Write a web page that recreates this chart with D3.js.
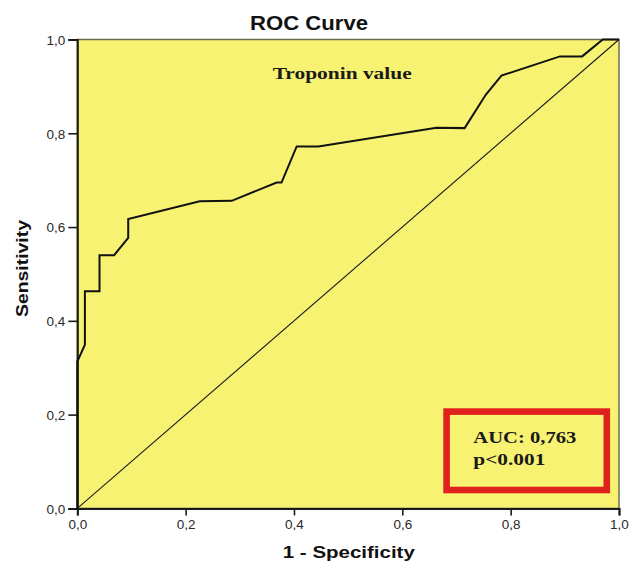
<!DOCTYPE html>
<html>
<head>
<meta charset="utf-8">
<script src="https://cdn.jsdelivr.net/npm/d3@7/dist/d3.min.js"></script>
<style>
  html, body { margin: 0; padding: 0; background: #ffffff; }
  svg { display: block; }
</style>
</head>
<body>
<svg id="chart" width="629" height="566"></svg>
<script>
// ---- data ----
const fpr = [0, 0, 0.014, 0.014, 0.041, 0.041, 0.068, 0.094, 0.094, 0.226, 0.285, 0.368, 0.377, 0.405, 0.445, 0.663, 0.715, 0.754, 0.783, 0.891, 0.932, 0.970, 1.0];
const tpr = [0, 0.313, 0.349, 0.463, 0.463, 0.540, 0.540, 0.577, 0.617, 0.655, 0.656, 0.695, 0.695, 0.772, 0.772, 0.812, 0.811, 0.882, 0.923, 0.964, 0.964, 1.0, 1.0];
const refX = [0, 1];
const refY = [0, 1];
const tickValues = [0, 0.2, 0.4, 0.6, 0.8, 1.0];
const tickLabels = ["0,0", "0,2", "0,4", "0,6", "0,8", "1,0"];
const titleText = "ROC Curve";
const seriesLabel = "Troponin value";
const xLabel = "1 - Specificity";
const yLabel = "Sensitivity";
const aucLines = ["AUC: 0,763", "p<0.001"];

// ---- layout ----
const svg = d3.select("#chart");
const pL = 77.3, pR = 619, pT = 39.5, pB = 508.4;
const x = d3.scaleLinear().domain([0, 1]).range([pL, pR]);
const y = d3.scaleLinear().domain([0, 1]).range([pB, pT]);

// plot background
svg.append("rect")
  .attr("x", pL).attr("y", pT)
  .attr("width", pR - pL).attr("height", pB - pT)
  .attr("fill", "#f8f272")
  .attr("stroke", "#6e6c50").attr("stroke-width", 1.5);

// axes
const xAxis = d3.axisBottom(x).tickValues(tickValues)
  .tickFormat((d, i) => tickLabels[i]).tickSize(7).tickPadding(4);
const yAxis = d3.axisLeft(y).tickValues(tickValues)
  .tickFormat((d, i) => tickLabels[i]).tickSize(9).tickPadding(3);

const gx = svg.append("g").attr("transform", `translate(0,${pB})`).call(xAxis);
const gy = svg.append("g").attr("transform", `translate(${pL},0)`).call(yAxis);
[gx, gy].forEach(g => {
  g.select(".domain").attr("stroke", "#1a1a1a").attr("stroke-width", 2);
  g.selectAll(".tick line").attr("stroke", "#1a1a1a").attr("stroke-width", 1.6);
  g.selectAll(".tick text")
    .attr("fill", "#2a2a2a")
    .style("font-family", "'Liberation Sans', Arial, sans-serif")
    .style("font-size", "13.5px");
});
gy.selectAll(".tick text").attr("dy", "0.36em");

// reference diagonal
svg.append("line")
  .attr("x1", x(refX[0])).attr("y1", y(refY[0]))
  .attr("x2", x(refX[1])).attr("y2", y(refY[1]))
  .attr("stroke", "#1a1a1a").attr("stroke-width", 1.1);

// ROC curve
const pts = fpr.map((v, i) => [v, tpr[i]]);
svg.append("path")
  .datum(pts)
  .attr("fill", "none")
  .attr("stroke", "#111111")
  .attr("stroke-width", 2)
  .attr("stroke-linejoin", "miter")
  .attr("d", d3.line().x(d => x(d[0])).y(d => y(d[1])));

// title
svg.append("text")
  .attr("x", 309).attr("y", 30)
  .attr("text-anchor", "middle")
  .attr("textLength", 118).attr("lengthAdjust", "spacingAndGlyphs")
  .style("font-family", "'Liberation Sans', Arial, sans-serif")
  .style("font-weight", "bold").style("font-size", "20px")
  .attr("fill", "#111")
  .text(titleText);

// series label inside plot
svg.append("text")
  .attr("x", 272.7).attr("y", 79)
  .attr("textLength", 139).attr("lengthAdjust", "spacingAndGlyphs")
  .style("font-family", "'Liberation Serif', 'Times New Roman', serif")
  .style("font-weight", "bold").style("font-size", "16px")
  .attr("fill", "#1a1a1a")
  .text(seriesLabel);

// axis labels
svg.append("text")
  .attr("x", 348.8).attr("y", 558)
  .attr("text-anchor", "middle")
  .attr("textLength", 132).attr("lengthAdjust", "spacingAndGlyphs")
  .style("font-family", "'Liberation Sans', Arial, sans-serif")
  .style("font-weight", "bold").style("font-size", "16px")
  .attr("fill", "#111")
  .text(xLabel);

svg.append("text")
  .attr("transform", "translate(27.5,268.5) rotate(-90)")
  .attr("text-anchor", "middle")
  .attr("textLength", 97).attr("lengthAdjust", "spacingAndGlyphs")
  .style("font-family", "'Liberation Sans', Arial, sans-serif")
  .style("font-weight", "bold").style("font-size", "17px")
  .attr("fill", "#111")
  .text(yLabel);

// AUC box
svg.append("rect")
  .attr("x", 446.6).attr("y", 411.6)
  .attr("width", 160.2).attr("height", 78.4)
  .attr("fill", "none")
  .attr("stroke", "#e0201c").attr("stroke-width", 6.6);

const aucLens = [103, 72];
const aucY = [443, 465];
aucLines.forEach((t, i) => {
  svg.append("text")
    .attr("x", 473.3).attr("y", aucY[i])
    .attr("textLength", aucLens[i]).attr("lengthAdjust", "spacingAndGlyphs")
    .style("font-family", "'Liberation Serif', 'Times New Roman', serif")
    .style("font-weight", "bold").style("font-size", "16px")
    .attr("fill", "#1a1a1a")
    .text(t);
});
</script>
</body>
</html>
